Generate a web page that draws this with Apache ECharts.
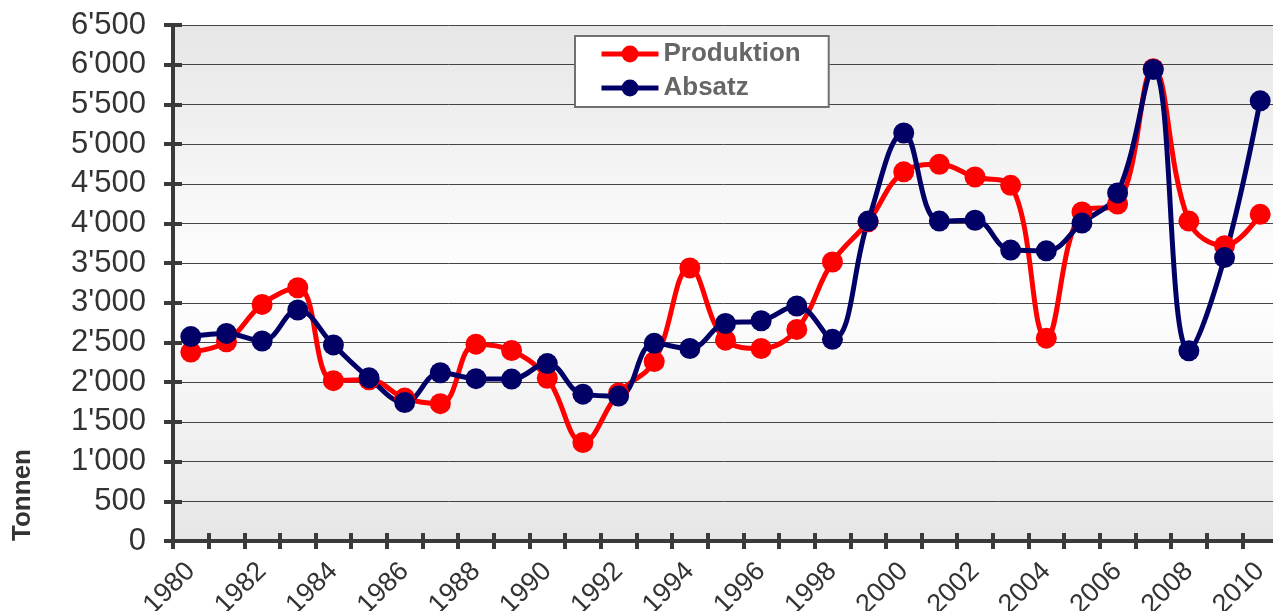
<!DOCTYPE html>
<html>
<head>
<meta charset="utf-8">
<script src="https://cdn.jsdelivr.net/npm/echarts@6/dist/echarts.min.js"></script>
<style>
  html, body { margin: 0; padding: 0; background: #ffffff; }
  #chart { width: 1273px; height: 611px; }
</style>
</head>
<body>
<div id="chart"></div>
<script>
// Jahre (Kategorien der x-Achse)
const years = ['1980', '1981', '1982', '1983', '1984', '1985', '1986', '1987', '1988', '1989',
               '1990', '1991', '1992', '1993', '1994', '1995', '1996', '1997', '1998', '1999',
               '2000', '2001', '2002', '2003', '2004', '2005', '2006', '2007', '2008', '2009', '2010'];

// Produktion in Tonnen
const produktion = [2380, 2510, 2980, 3190, 2020, 2030, 1800, 1730, 2480, 2400,
                    2050, 1240, 1865, 2260, 3440, 2530, 2425, 2665, 3515, 4020,
                    4650, 4745, 4585, 4480, 2555, 4145, 4245, 5950, 4030, 3720, 4115];

// Absatz in Tonnen
const absatz = [2575, 2615, 2520, 2910, 2470, 2055, 1745, 2120, 2045, 2040,
                2235, 1850, 1825, 2490, 2425, 2740, 2775, 2960, 2540, 4030,
                5140, 4030, 4040, 3665, 3655, 4005, 4385, 5940, 2395, 3570, 5545];

// Skala der y-Achse
const yMin = 0;
const yMax = 6500;
const yStep = 500;

const seriesNames = ['Produktion', 'Absatz'];
const seriesColors = ['#ff0000', '#000066'];

const axisColor = '#3a3a3a';

// Tausendertrennzeichen mit Apostroph
function formatTonnen(v) {
  if (v < 1000) return String(v);
  return Math.floor(v / 1000) + "'" + String(v % 1000).padStart(3, '0');
}

const chart = echarts.init(document.getElementById('chart'), null, { renderer: 'canvas' });

function lineSeries(name, data, color) {
  return {
    name: name,
    type: 'line',
    data: data,
    xAxisIndex: 0,
    yAxisIndex: 0,
    smooth: 0.4,
    symbol: 'circle',
    symbolSize: 21,
    lineStyle: { color: color, width: 5 },
    itemStyle: { color: color },
    emphasis: { disabled: true },
    animation: false
  };
}

chart.setOption({
  animation: false,
  grid: {
    left: 173,
    right: -5,
    top: 25,
    bottom: 70,
    outerBoundsMode: 'none',
    containLabel: false,
    show: true,
    borderWidth: 0,
    backgroundColor: {
      type: 'linear', x: 0, y: 0, x2: 0, y2: 1,
      colorStops: [
        { offset: 0, color: '#e6e6e6' },
        { offset: 0.5, color: '#ffffff' },
        { offset: 1, color: '#e6e6e6' }
      ]
    }
  },
  legend: {
    data: seriesNames,
    orient: 'vertical',
    left: 575,
    top: 36,
    itemWidth: 57,
    itemHeight: 21,
    itemGap: 8,
    padding: [5, 28, 6, 24],
    borderColor: '#707070',
    borderWidth: 2,
    backgroundColor: '#ffffff',
    lineStyle: { width: 5 },
    textStyle: {
      fontFamily: 'Liberation Sans, Arial, sans-serif',
      fontWeight: 'bold',
      fontSize: 26,
      color: '#666666'
    }
  },
  xAxis: [
    {
      type: 'category',
      data: years,
      position: 'bottom',
      boundaryGap: true,
      axisLine: { show: true, lineStyle: { color: axisColor, width: 4 } },
      axisTick: { show: true, interval: 0, length: 8, lineStyle: { color: axisColor, width: 4 } },
      axisLabel: {
        interval: 1,
        rotate: 45,
        margin: 26,
        fontFamily: 'Liberation Sans, Arial, sans-serif',
        fontSize: 27,
        color: '#333333'
      },
      splitLine: { show: false }
    },
    {
      // innere Hälfte der Teilstriche
      type: 'category',
      data: years,
      position: 'bottom',
      boundaryGap: true,
      axisLine: { show: false },
      axisTick: { show: true, inside: true, interval: 0, length: 8, lineStyle: { color: axisColor, width: 4 } },
      axisLabel: { show: false },
      splitLine: { show: false }
    }
  ],
  yAxis: [
    {
      type: 'value',
      min: yMin,
      max: yMax,
      interval: yStep,
      position: 'left',
      axisLine: { show: true, lineStyle: { color: axisColor, width: 4 } },
      axisTick: { show: true, length: 9, lineStyle: { color: axisColor, width: 4 } },
      axisLabel: {
        margin: 27,
        formatter: formatTonnen,
        fontFamily: 'Liberation Sans, Arial, sans-serif',
        fontSize: 31,
        color: '#333333'
      },
      splitLine: { show: true, lineStyle: { color: '#444444', width: 1 } }
    },
    {
      // innere Hälfte der Teilstriche
      type: 'value',
      min: yMin,
      max: yMax,
      interval: yStep,
      position: 'left',
      axisLine: { show: false },
      axisTick: { show: true, inside: true, length: 9, lineStyle: { color: axisColor, width: 4 } },
      axisLabel: { show: false },
      splitLine: { show: false }
    }
  ],
  graphic: [
    {
      type: 'text',
      x: 23,
      y: 495,
      rotation: Math.PI / 2,
      style: {
        text: 'Tonnen',
        fontFamily: 'Liberation Sans, Arial, sans-serif',
        fontWeight: 'bold',
        fontSize: 26,
        fill: '#333333',
        align: 'center',
        verticalAlign: 'middle'
      }
    }
  ],
  series: [
    lineSeries(seriesNames[0], produktion, seriesColors[0]),
    lineSeries(seriesNames[1], absatz, seriesColors[1])
  ]
});
</script>
</body>
</html>
